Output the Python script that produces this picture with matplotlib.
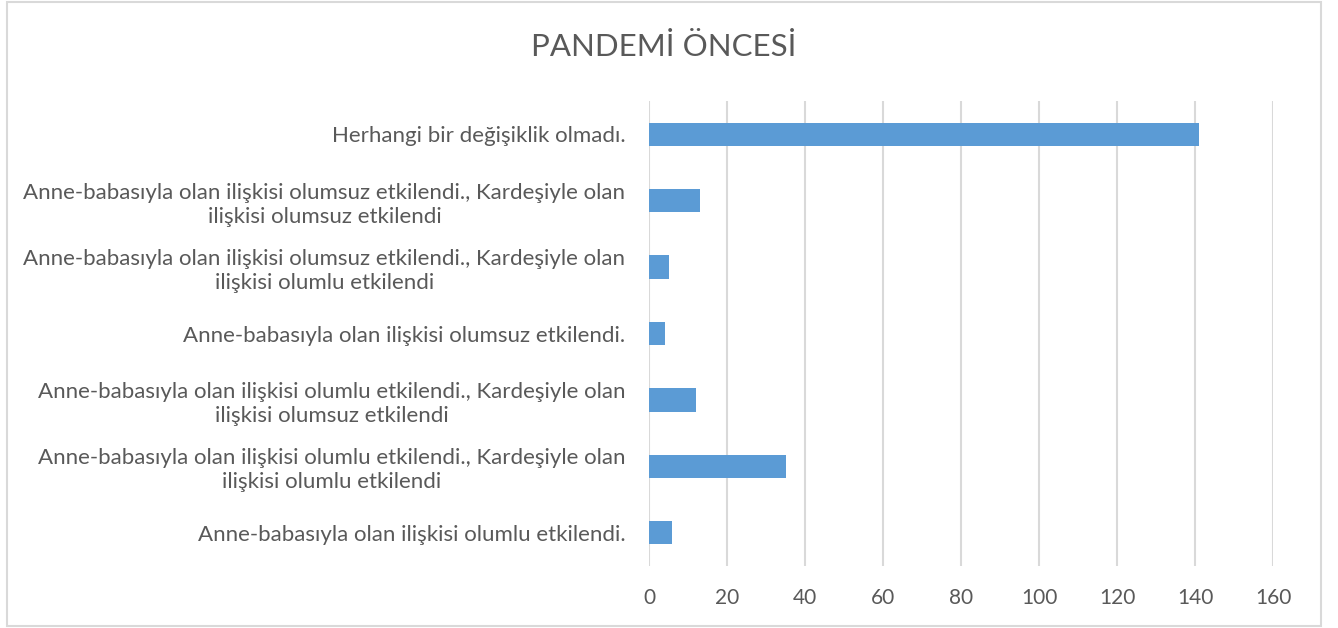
import matplotlib.pyplot as plt
from matplotlib.patches import Rectangle

plt.rcParams['font.family'] = ['Lato', 'DejaVu Sans']

labels = [
    "Herhangi bir değişiklik olmadı.",
    "Anne-babasıyla olan ilişkisi olumsuz etkilendi., Kardeşiyle olan\nilişkisi olumsuz etkilendi",
    "Anne-babasıyla olan ilişkisi olumsuz etkilendi., Kardeşiyle olan\nilişkisi olumlu etkilendi",
    "Anne-babasıyla olan ilişkisi olumsuz etkilendi.",
    "Anne-babasıyla olan ilişkisi olumlu etkilendi., Kardeşiyle olan\nilişkisi olumsuz etkilendi",
    "Anne-babasıyla olan ilişkisi olumlu etkilendi., Kardeşiyle olan\nilişkisi olumlu etkilendi",
    "Anne-babasıyla olan ilişkisi olumlu etkilendi.",
]
values = [141, 13, 5, 4, 12, 35, 6]
xticks = [0, 20, 40, 60, 80, 100, 120, 140, 160]

W, H = 1338, 628
fig = plt.figure(figsize=(W / 100, H / 100), dpi=100)
ax = fig.add_axes([649 / W, 1 - 566 / H, (1273 - 649) / W, (566 - 101) / H])

# chart border
fig.patches.append(Rectangle((7 / W, 2 / H), (1321 - 7) / W, (626 - 2) / H,
                             transform=fig.transFigure, fill=False,
                             edgecolor='#d9d9d9', linewidth=1.5))

pos = list(range(len(values)))[::-1]
ax.barh(pos, values, height=0.35, color='#5B9BD5', zorder=3)

ax.set_xlim(0, 160)
ax.set_ylim(-0.5, len(values) - 0.5)
ax.set_xticks(xticks)
ax.set_yticks(pos)
ax.set_yticklabels(labels, ha='right', multialignment='center', linespacing=1.25)
ax.grid(axis='x', color='#d9d9d9', linewidth=1.5, zorder=0)
for s in ax.spines.values():
    s.set_visible(False)
ax.tick_params(axis='x', length=0, colors='#595959', labelsize=15, pad=16)
ax.tick_params(axis='y', length=0, colors='#595959', labelsize=16, pad=17)

fig.text(664 / W, 1 - 47 / H, "PANDEMİ ÖNCESİ", ha='center', va='center',
         fontsize=22.5, color='#595959')

fig.savefig("out.png", dpi=100)
